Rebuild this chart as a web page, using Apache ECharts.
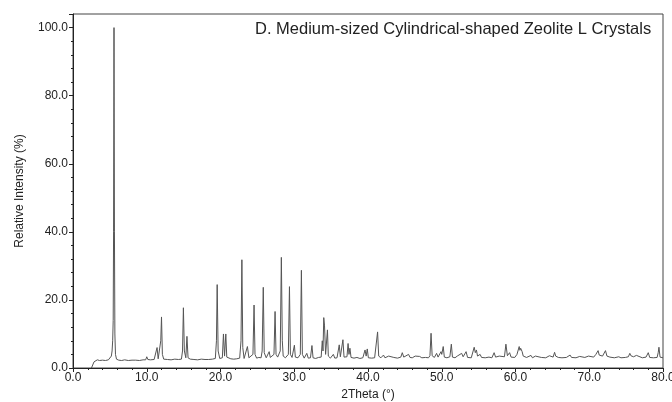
<!DOCTYPE html>
<html>
<head>
<meta charset="utf-8">
<script src="https://cdn.jsdelivr.net/npm/echarts@6/dist/echarts.min.js"></script>
<style>html,body{margin:0;padding:0;background:#fff;}#c{width:672px;height:402px;}</style>
</head>
<body>
<div id="c"></div>
<script>
const chartTitle = 'D. Medium-sized Cylindrical-shaped Zeolite L Crystals';
const xName = '2Theta (°)';
const yName = 'Relative Intensity (%)';
const xTicks = [0, 10, 20, 30, 40, 50, 60, 70, 80];
const yTicks = [0, 20, 40, 60, 80, 100];

// [2theta, relative intensity]
const pattern2to20 = [
  [2.5,0.0],[2.7,0.3],[2.85,1.8],[3.0,2.3],[3.3,2.4],[3.6,2.2],[4.0,2.3],[4.4,2.2],[4.8,2.4],
  [5.05,2.8],[5.2,3.5],[5.3,5.0],[5.38,8.0],[5.45,14],[5.5,40],[5.56,100],[5.62,40],[5.68,10],
  [5.76,4],[5.9,2.6],[6.2,2.3],[6.6,2.2],[7.0,2.4],[7.5,2.2],[8.0,2.3],[8.5,2.3],[9.0,2.2],
  [9.5,2.4],[9.85,2.4],[10.0,3.3],[10.15,2.5],[10.5,2.4],[11.0,2.5],[11.25,2.6],[11.4,6.0],
  [11.55,2.7],[11.75,2.8],[11.9,8],[12.0,15.0],[12.12,4],[12.3,2.6],[12.8,2.5],[13.3,2.4],
  [13.8,2.6],[14.3,2.5],[14.7,2.6],[14.85,5],[14.97,17.7],[15.1,5],[15.3,3],[15.45,9.3],
  [15.6,3],[15.9,2.6],[16.4,2.5],[16.9,2.4],[17.4,2.6],[17.9,2.5],[18.4,2.5],[18.9,2.6],
  [19.3,2.8],[19.45,8],[19.55,24.5],[19.68,5],[19.9,2.8]
];
const pattern20to40 = [
  [20.25,3.0],[20.4,10.0],[20.55,3.5],[20.72,10.0],[20.85,3.2],[21.1,3.3],[21.4,2.7],[21.8,2.6],
  [22.2,2.7],[22.6,2.9],[22.78,8],[22.9,31.8],[23.02,6],[23.2,2.8],[23.45,3.2],[23.65,6.3],
  [23.85,3.0],[24.1,2.9],[24.4,4],[24.55,18.5],[24.68,4],[24.9,2.9],[25.2,3.1],[25.5,3.0],
  [25.65,5],[25.8,23.7],[25.93,4.5],[26.2,3.0],[26.45,3.2],[26.6,4.8],[26.75,3.1],[27.0,2.9],
  [27.25,4],[27.4,16.6],[27.53,4],[27.75,3.2],[28.1,5],[28.25,32.5],[28.38,8],[28.5,3.5],
  [28.8,3.0],[29.2,4],[29.35,23.9],[29.48,4],[29.7,3.1],[29.88,3.3],[30.02,6.7],[30.15,3.2],
  [30.5,3.0],[30.82,4],[30.97,28.7],[31.1,4],[31.35,2.9],[31.7,4.3],[31.9,2.9],[32.2,3.0],
  [32.4,6.6],[32.55,3.0],[32.9,2.8],[33.3,3.1],[33.65,3.2],[33.8,8.0],[33.9,5],[34.0,14.8],
  [34.1,12.6],[34.25,4],[34.5,11.2],[34.62,3.5],[34.9,2.9],[35.3,4.0],[35.5,2.9],[35.8,3.0],
  [35.95,3.2],[36.1,6.8],[36.25,3.3],[36.45,3.4],[36.6,8.3],[36.75,3.2],[37.0,3.0],[37.15,3.3],
  [37.3,7.2],[37.42,4],[37.55,5.8],[37.7,3.1],[38.1,2.9],[38.5,3.1],[38.9,2.8],[39.3,3.0],
  [39.6,5.3],[39.75,3.5],[39.9,5.6],[40.05,3.0]
];
const pattern40to80 = [
  [40.5,2.9],[40.9,3.0],[41.15,3.3],[41.3,10.6],[41.45,3.5],[41.6,4.0],[41.75,3.0],[42.1,3.8],
  [42.3,3.0],[42.8,3.5],[43.0,3.0],[43.5,3.1],[44.0,2.9],[44.45,3.2],[44.65,4.5],[44.85,3.2],
  [45.1,3.0],[45.5,4.0],[45.7,3.1],[46.0,3.0],[46.4,3.5],[46.6,3.0],[47.0,3.4],[47.3,3.0],
  [47.8,3.1],[48.2,3.0],[48.4,3.6],[48.55,10.2],[48.7,3.6],[49.0,3.1],[49.3,4.3],[49.5,3.2],
  [49.9,4.8],[50.0,4],[50.2,6.3],[50.35,3.2],[50.7,3.0],[51.1,3.3],[51.3,7.0],[51.45,3.2],
  [51.8,3.0],[52.1,3.5],[52.3,3.0],[52.7,4.3],[52.9,3.3],[53.3,4.8],[53.5,3.1],[54.0,3.0],
  [54.25,3.5],[54.4,6.1],[54.55,4.5],[54.7,5.3],[54.85,3.5],[55.2,4.0],[55.4,3.1],[55.9,3.0],
  [56.4,3.2],[56.8,3.0],[57.1,4.5],[57.3,3.2],[57.8,3.5],[58.0,3.0],[58.5,3.3],[58.7,7.0],
  [58.9,3.6],[59.2,4.5],[59.4,3.2],[59.9,3.1],[60.2,4.0],[60.35,3.5],[60.5,6.3],[60.6,5.2],
  [60.7,5.8],[60.9,4.8],[61.05,3.5],[61.3,4.0],[61.5,3.1],[62.1,3.7],[62.3,3.0],[62.7,3.5],
  [62.9,3.0],[63.5,3.1],[64.1,3.0],[64.6,3.6],[64.8,3.1],[65.1,3.2],[65.3,4.6],[65.45,3.5],
  [65.6,4.0],[65.8,3.1],[66.3,3.0],[66.9,3.1],[67.4,3.8],[67.6,3.1],[68.2,3.0],[68.7,3.4],
  [68.9,3.0],[69.4,3.1],[69.9,3.5],[70.1,3.1],[70.6,3.2],[70.9,4.0],[71.05,3.6],[71.2,5.1],
  [71.35,3.8],[71.6,4.3],[71.8,3.5],[72.0,3.6],[72.2,5.1],[72.4,3.5],[72.8,3.2],[73.4,3.0],
  [74.0,3.3],[74.3,3.0],[74.9,3.1],[75.3,3.3],[75.5,4.3],[75.65,3.6],[75.8,4.0],[76.0,3.3],
  [76.4,3.7],[76.6,3.2],[77.2,3.0],[77.7,3.2],[78.0,4.5],[78.2,3.1],[78.7,3.0],[79.2,3.1],
  [79.35,4.5],[79.45,6.1],[79.6,3.2],[79.8,3.0],[80.0,3.0]
];

const data = pattern2to20.concat(pattern20to40, pattern40to80);
const FONT = 'Liberation Sans, Arial, sans-serif';
const chart = echarts.init(document.getElementById('c'), null, {renderer: 'canvas'});
chart.setOption({
  animation: false,
  backgroundColor: '#fff',
  grid: {left: 73, right: 9, top: 14, bottom: 34, show: true, borderColor: '#444', borderWidth: 1,
         containLabel: false, outerBoundsMode: 'none'},
  graphic: [{
    type: 'text', left: 255, top: 21,
    style: {text: chartTitle, fill: '#222', font: '16.5px ' + FONT}
  }],
  xAxis: {
    type: 'value', min: xTicks[0], max: xTicks[xTicks.length - 1], interval: 10,
    name: xName, nameLocation: 'middle', nameGap: 20,
    nameTextStyle: {fontFamily: FONT, fontSize: 12, color: '#222'},
    axisLine: {lineStyle: {color: '#222', width: 1}},
    axisTick: {show: true, length: 4, lineStyle: {color: '#222'}},
    minorTick: {show: true, splitNumber: 5, length: 2, lineStyle: {color: '#222'}},
    splitLine: {show: false},
    axisLabel: {fontFamily: FONT, fontSize: 12, color: '#222', margin: 4,
      formatter: v => xTicks.includes(v) ? v.toFixed(1) : ''}
  },
  yAxis: {
    type: 'value', min: 0, max: 104, interval: 20,
    name: yName, nameLocation: 'middle', nameGap: 47,
    nameTextStyle: {fontFamily: FONT, fontSize: 12, color: '#222'},
    axisLine: {show: true, lineStyle: {color: '#222', width: 1}},
    axisTick: {show: true, length: 4, lineStyle: {color: '#222'}},
    minorTick: {show: true, splitNumber: 5, length: 2, lineStyle: {color: '#222'}},
    splitLine: {show: false},
    axisLabel: {fontFamily: FONT, fontSize: 12, color: '#222', margin: 5,
      formatter: v => yTicks.includes(v) ? v.toFixed(1) : ''}
  },
  series: [{
    type: 'line', data: data, symbol: 'none', smooth: false,
    lineStyle: {color: '#555', width: 1}
  }]
});
</script>
</body>
</html>
